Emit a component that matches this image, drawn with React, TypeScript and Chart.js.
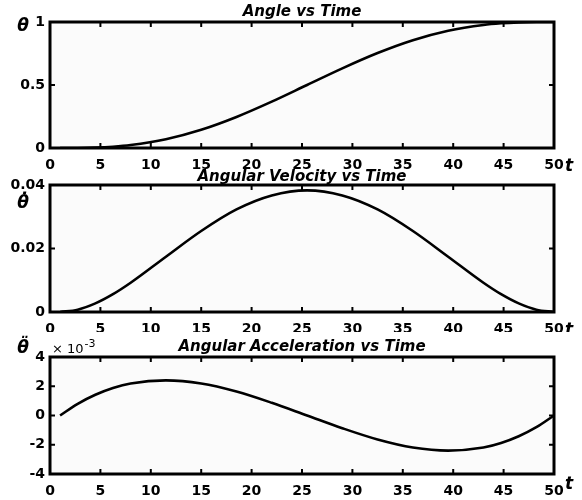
import React, { useEffect, useRef } from 'react';
import { Chart, registerables } from 'chart.js';

Chart.register(...registerables);

// Time samples (s)
const tValues = [1, 2.75, 4.5, 6.25, 8, 11.5, 15, 18.5, 22, 25.5, 29, 32.5, 36, 39.5, 43, 44.75, 46.5, 48.25, 50];
// Angle θ
const angleValues = [0, 0.0004, 0.0033, 0.0104, 0.0233, 0.0695, 0.1447, 0.2464, 0.3679, 0.5, 0.6321, 0.7536, 0.8553, 0.9305, 0.9767, 0.9896, 0.9967, 0.9996, 1];
// Angular velocity θ̇
const velocityValues = [0, 0.00073, 0.0027, 0.0056, 0.0092, 0.0174, 0.0255, 0.0323, 0.0367, 0.0383, 0.0367, 0.0323, 0.0255, 0.0174, 0.0092, 0.0056, 0.0027, 0.00073, 0];
// Angular acceleration θ̈ (× 10^-3)
const accelValues = [0, 0.8, 1.42, 1.88, 2.19, 2.4, 2.19, 1.64, 0.87, 0, -0.87, -1.64, -2.19, -2.4, -2.19, -1.88, -1.42, -0.8, 0];

const xTickValues = [0, 5, 10, 15, 20, 25, 30, 35, 40, 45, 50];
const angleTicks = [0, 0.5, 1];
const velocityTicks = [0, 0.02, 0.04];
const accelTicks = [-4, -2, 0, 2, 4];

const titles = ['Angle vs Time', 'Angular Velocity vs Time', 'Angular Acceleration vs Time'];
const yLabels = ['\u03B8', '\u03B8\u0307', '\u03B8\u0308'];
const xLabel = 't';
const exponentText = ['\u00D7 10', '-3'];

const FONT = '"DejaVu Sans", sans-serif';

type Panel = {
  top: number;
  height: number;
  padTop: number;
  xAxisH: number;
  values: number[];
  yTicks: number[];
  title: string;
  titleY: number;
  yLabel: string;
  yLabelY: number;
  tY: number;
  exponent: boolean;
};

const panels: Panel[] = [
  { top: 0, height: 172, padTop: 22, xAxisH: 24, values: angleValues, yTicks: angleTicks, title: titles[0], titleY: 12, yLabel: yLabels[0], yLabelY: 27, tY: 167, exponent: false },
  { top: 160, height: 172, padTop: 25, xAxisH: 20, values: velocityValues, yTicks: velocityTicks, title: titles[1], titleY: 177, yLabel: yLabels[1], yLabelY: 204, tY: 331, exponent: false },
  { top: 330, height: 170, padTop: 27, xAxisH: 26, values: accelValues, yTicks: accelTicks, title: titles[2], titleY: 347, yLabel: yLabels[2], yLabelY: 349, tY: 485, exponent: true },
];

const decorPlugin = {
  id: 'decor',
  beforeDatasetsDraw(chart: any) {
    const { ctx, chartArea } = chart;
    const { left, top, right, bottom } = chartArea;
    ctx.save();
    ctx.fillStyle = '#fbfbfb';
    ctx.fillRect(left, top, right - left, bottom - top);
    ctx.restore();
  },
  afterDatasetsDraw(chart: any) {
    const { ctx, chartArea } = chart;
    const { left, top, right, bottom } = chartArea;
    const xs = chart.scales.x;
    const ys = chart.scales.y;
    const L = 5;
    ctx.save();
    ctx.strokeStyle = '#000';
    ctx.lineWidth = 2;
    ctx.beginPath();
    xs.ticks.forEach((tk: any) => {
      const px = xs.getPixelForValue(tk.value);
      ctx.moveTo(px, bottom);
      ctx.lineTo(px, bottom - L);
      ctx.moveTo(px, top);
      ctx.lineTo(px, top + L);
    });
    ys.ticks.forEach((tk: any) => {
      const py = ys.getPixelForValue(tk.value);
      ctx.moveTo(left, py);
      ctx.lineTo(left + L, py);
      ctx.moveTo(right, py);
      ctx.lineTo(right - L, py);
    });
    ctx.stroke();
    ctx.lineWidth = 3;
    ctx.strokeRect(left, top, right - left, bottom - top);
    ctx.restore();
  },
  afterDraw(chart: any, _args: any, opts: any) {
    const { ctx, chartArea } = chart;
    const off = opts.offset;
    const cx = (chartArea.left + chartArea.right) / 2;
    ctx.save();
    ctx.fillStyle = '#000';
    ctx.textBaseline = 'middle';
    ctx.textAlign = 'center';
    ctx.font = `italic bold 15px ${FONT}`;
    ctx.fillText(opts.title, cx, opts.titleY - off);
    ctx.font = `italic bold 17px ${FONT}`;
    ctx.fillText(opts.yLabel, 23, opts.yLabelY - off);
    ctx.fillText(xLabel, 569, opts.tY - off);
    if (opts.exponent) {
      ctx.textAlign = 'left';
      ctx.font = `13px ${FONT}`;
      ctx.fillText(exponentText[0], 52, 350 - off);
      const w = ctx.measureText(exponentText[0]).width;
      ctx.font = `11px ${FONT}`;
      ctx.fillText(exponentText[1], 52 + w + 1, 344 - off);
    }
    ctx.restore();
  },
};

function PanelChart({ p }: { p: Panel }) {
  const ref = useRef<HTMLCanvasElement | null>(null);
  useEffect(() => {
    if (!ref.current) return;
    const yMin = p.yTicks[0];
    const yMax = p.yTicks[p.yTicks.length - 1];
    const chart = new Chart(ref.current, {
      type: 'line',
      data: {
        datasets: [
          {
            data: tValues.map((t, i) => ({ x: t, y: p.values[i] })),
            borderColor: '#000',
            borderWidth: 2.6,
            pointRadius: 0,
            cubicInterpolationMode: 'monotone',
            fill: false,
          },
        ],
      },
      options: {
        animation: false,
        responsive: false,
        devicePixelRatio: 1,
        layout: { padding: { left: 0, right: 28, top: p.padTop, bottom: 0 } },
        plugins: {
          legend: { display: false },
          tooltip: { enabled: false },
          decor: {
            offset: p.top,
            title: p.title,
            titleY: p.titleY,
            yLabel: p.yLabel,
            yLabelY: p.yLabelY,
            tY: p.tY,
            exponent: p.exponent,
          },
        } as any,
        scales: {
          x: {
            type: 'linear',
            min: 0,
            max: 50,
            afterBuildTicks: (s: any) => {
              s.ticks = xTickValues.map((v) => ({ value: v }));
            },
            afterFit: (s: any) => {
              s.height = p.xAxisH;
            },
            grid: { display: false, drawTicks: false },
            border: { display: false },
            ticks: {
              color: '#000',
              padding: 9,
              maxRotation: 0,
              autoSkip: false,
              font: { family: FONT, size: 14, weight: 'bold' },
            },
          },
          y: {
            type: 'linear',
            min: yMin,
            max: yMax,
            afterBuildTicks: (s: any) => {
              s.ticks = p.yTicks.map((v) => ({ value: v }));
            },
            afterFit: (s: any) => {
              s.width = 50;
            },
            grid: { display: false, drawTicks: false },
            border: { display: false },
            ticks: {
              color: '#000',
              padding: 5,
              autoSkip: false,
              font: { family: FONT, size: 14, weight: 'bold' },
              callback: (v: any) => String(Number(v)),
            },
          },
        },
      },
      plugins: [decorPlugin as any],
    });
    return () => chart.destroy();
  }, [p]);
  return (
    <div style={{ position: 'absolute', left: 0, top: p.top, width: 582, height: p.height }}>
      <canvas ref={ref} width={582} height={p.height} style={{ display: 'block' }} />
    </div>
  );
}

export default function App() {
  return (
    <div style={{ position: 'absolute', left: 0, top: 0, width: 582, height: 500, background: '#fff', overflow: 'hidden' }}>
      {panels.map((p, i) => (
        <PanelChart key={i} p={p} />
      ))}
    </div>
  );
}
